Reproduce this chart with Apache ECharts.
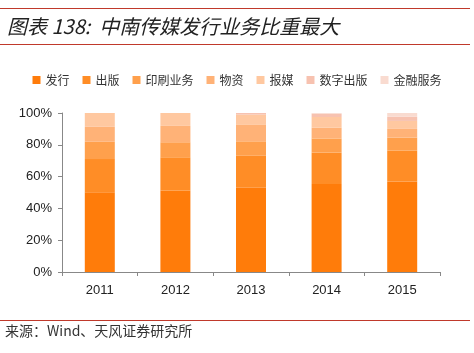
<!DOCTYPE html>
<html>
<head>
<meta charset="utf-8">
<script src="https://cdn.jsdelivr.net/npm/echarts@6/dist/echarts.min.js"></script>
<style>
  html, body { margin: 0; padding: 0; background: #fff; }
  #chart { width: 474px; height: 353px; }
</style>
</head>
<body>
<div id="chart"></div>
<script>
// 年份
var years = ['2011', '2012', '2013', '2014', '2015'];
// 各业务占比（%）
var faxing = [50.1, 51.3, 53.0, 55.3, 56.8];
var chuban = [20.9, 20.9, 20.1, 19.9, 19.5];
var yinshua = [10.9, 9.4, 9.1, 8.8, 8.2];
var wuzi = [9.4, 10.3, 10.3, 6.7, 5.5];
var baomei = [8.7, 8.1, 6.5, 6.8, 5.0];
var shuzi = [0, 0, 1.0, 2.0, 2.7];
var jinrong = [0, 0, 0, 0.5, 2.3];
var seriesNames = ['发行', '出版', '印刷业务', '物资', '报媒', '数字出版', '金融服务'];
var yTicks = [0, 20, 40, 60, 80, 100];

var colors = ['#ff7c0a', '#ff8d26', '#ffa04c', '#ffb277', '#ffc8a0', '#f7c2b0', '#f9dbd0'];
var seriesData = [faxing, chuban, yinshua, wuzi, baomei, shuzi, jinrong];

var myChart = echarts.init(document.getElementById('chart'));
var font = '"Liberation Sans", Arial, sans-serif';
var cjk = '"Noto Sans CJK SC", sans-serif';

var series = [];
for (var i = 0; i < seriesNames.length; i++) {
    series.push({
        name: seriesNames[i],
        type: 'bar',
        stack: 'total',
        barWidth: 30,
        itemStyle: { color: colors[i] },
        data: seriesData[i]
    });
}

var option = {
    animation: false,
    color: colors,
    graphic: [
        { type: 'line', shape: { x1: 0, y1: 8.5, x2: 470, y2: 8.5 }, style: { stroke: '#c0392b', lineWidth: 1 } },
        { type: 'text', left: 7, top: 16, style: { text: '图表 138:  中南传媒发行业务比重最大', font: 'italic 20px ' + cjk, fill: '#222' } },
        { type: 'line', shape: { x1: 0, y1: 44.5, x2: 470, y2: 44.5 }, style: { stroke: '#c0392b', lineWidth: 1 } },
        { type: 'line', shape: { x1: 0, y1: 320.5, x2: 470, y2: 320.5 }, style: { stroke: '#c0392b', lineWidth: 1 } },
        { type: 'text', left: 5, top: 324, style: { text: '来源：Wind、天风证券研究所', font: '14px ' + cjk, fill: '#333' } }
    ],
    legend: {
        top: 69,
        left: 'center',
        itemWidth: 8,
        itemHeight: 8,
        itemGap: 13,
        icon: 'rect',
        textStyle: { fontFamily: cjk, fontSize: 12, color: '#333' },
        data: seriesNames
    },
    grid: { left: 62, right: 34, top: 113, bottom: 81 },
    xAxis: {
        type: 'category',
        data: years,
        axisLine: { lineStyle: { color: '#888' } },
        axisTick: { show: true, length: 4, lineStyle: { color: '#888' } },
        axisLabel: { fontFamily: font, fontSize: 13, color: '#222', margin: 12 }
    },
    yAxis: {
        type: 'value',
        min: yTicks[0],
        max: yTicks[yTicks.length - 1],
        interval: 20,
        splitLine: { show: false },
        axisLine: { show: true, lineStyle: { color: '#888' } },
        axisTick: { show: true, length: 4, lineStyle: { color: '#888' } },
        axisLabel: { formatter: '{value}%', fontFamily: font, fontSize: 13, color: '#222', margin: 10 }
    },
    series: series
};

myChart.setOption(option);
</script>
</body>
</html>
